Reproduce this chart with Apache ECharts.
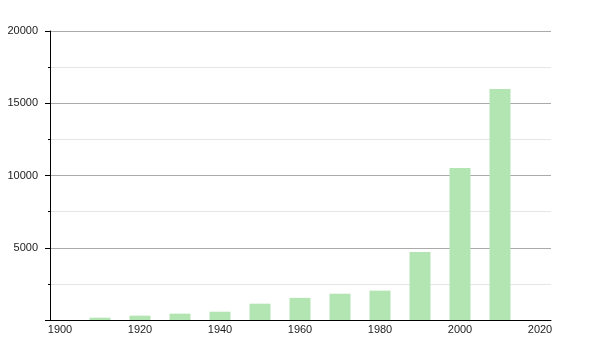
<!DOCTYPE html>
<html>
<head>
<meta charset="utf-8">
<script src="https://cdn.jsdelivr.net/npm/echarts@6/dist/echarts.min.js"></script>
<style>
  html, body { margin: 0; padding: 0; background: #fff; }
  #chart { width: 600px; height: 350px; }
</style>
</head>
<body>
<div id="chart"></div>
<script>
// census years and population
const years = [1910, 1920, 1930, 1940, 1950, 1960, 1970, 1980, 1990, 2000, 2010];
const population = [160, 300, 440, 575, 1130, 1530, 1820, 2030, 4700, 10520, 15990];
const yearTicks = [1900, 1920, 1940, 1960, 1980, 2000, 2020];

const chart = echarts.init(document.getElementById('chart'));

chart.setOption({
  animation: false,
  grid: { left: 50, right: 49, top: 31, bottom: 30 },
  xAxis: {
    type: 'value',
    min: 1897.5,
    max: 2022.75,
    axisLine: { show: true, lineStyle: { color: '#000', width: 1 } },
    axisTick: { show: false },
    splitLine: { show: false },
    axisLabel: {
      customValues: yearTicks,
      color: '#222',
      fontFamily: 'Liberation Sans, Arial, sans-serif',
      fontSize: 11,
      margin: 4,
      formatter: (v) => String(v),
    },
  },
  yAxis: {
    type: 'value',
    min: 0,
    max: 20000,
    interval: 5000,
    axisLine: { show: true, lineStyle: { color: '#000', width: 1 } },
    axisTick: { show: true, length: 5, lineStyle: { color: '#000' } },
    minorTick: { show: true, splitNumber: 2, length: 2, lineStyle: { color: '#000' } },
    splitLine: { show: true, lineStyle: { color: '#aaa', width: 1 } },
    minorSplitLine: { show: true, lineStyle: { color: '#e6e6e6', width: 1 } },
    axisLabel: {
      color: '#222',
      fontFamily: 'Liberation Sans, Arial, sans-serif',
      fontSize: 11,
      margin: 12,
      formatter: (v) => (v === 0 ? '' : String(v)),
    },
  },
  series: [{
    type: 'bar',
    barWidth: 21,
    itemStyle: { color: '#b3e5b3' },
    data: years.map((y, i) => [y, population[i]]),
  }],
});
</script>
</body>
</html>
